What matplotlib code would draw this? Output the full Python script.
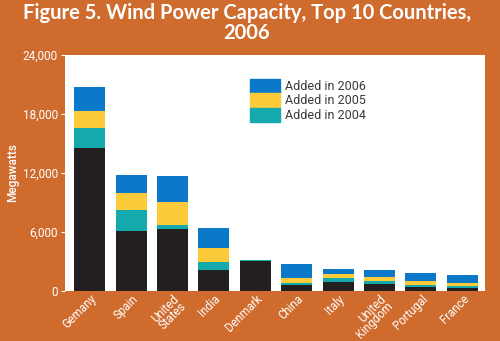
import matplotlib
matplotlib.use("Agg")
import matplotlib.pyplot as plt
import numpy as np
from matplotlib.patches import Patch

countries = ["Gemany", "Spain", "United\nStates", "India", "Denmark", "China",
             "Italy", "United\nKingdom", "Portugal", "France"]
base_2003 = [14500, 6150, 6340, 2120, 3100, 600, 960, 730, 400, 300]
added_2004 = [2050, 2130, 330, 880, 18, 200, 360, 250, 220, 170]
added_2005 = [1800, 1720, 2390, 1400, 4, 520, 450, 450, 440, 350]
added_2006 = [2350, 1780, 2600, 2020, 14, 1400, 480, 700, 820, 830]
yticks = [0, 6000, 12000, 18000, 24000]
ytick_labels = ["0", "6,000", "12,000", "18,000", "24,000"]

bg = "#D06B2E"
c_black = "#231F20"
c_teal = "#14A9AA"
c_yellow = "#FDCB3A"
c_blue = "#0B78C9"

narrow = ["Roboto", "DejaVu Sans"]

fig = plt.figure(figsize=(5.0, 3.41), dpi=100, facecolor=bg)
ax = fig.add_axes([0.13, 0.1466, 0.84, 0.692])
ax.set_facecolor("white")

x = np.arange(len(countries))
w = 0.75
b0 = np.array(base_2003, float)
b1 = b0 + np.array(added_2004)
b2 = b1 + np.array(added_2005)
ax.bar(x, base_2003, w, color=c_black, zorder=2)
ax.bar(x, added_2004, w, bottom=b0, color=c_teal, zorder=2)
ax.bar(x, added_2005, w, bottom=b1, color=c_yellow, zorder=2)
ax.bar(x, added_2006, w, bottom=b2, color=c_blue, zorder=2)

ax.set_xlim(-0.6, 9.55)
ax.set_ylim(0, 24000)
ax.set_yticks(yticks)
ax.set_yticklabels(ytick_labels, family=narrow, fontsize=8.5, color="white")
ax.tick_params(axis="y", colors="white", length=3, width=0.8, pad=2)
ax.set_xticks(x)
ax.set_xticklabels(countries, rotation=45, ha="right", rotation_mode="anchor",
                   family=narrow, fontsize=8.3, color="white", linespacing=0.72)
ax.tick_params(axis="x", length=0, pad=1)
for s in ax.spines.values():
    s.set_visible(False)

ax.set_ylabel("Megawatts", family=narrow, fontsize=8.5, color="white",
              fontweight="medium")
ax.yaxis.set_label_coords(-0.11, 0.5)

handles = [Patch(color=c_blue), Patch(color=c_yellow), Patch(color=c_teal)]
leg = ax.legend(handles, ["Added in 2006", "Added in 2005", "Added in 2004"],
                loc="upper left", bbox_to_anchor=(0.44, 0.9), frameon=False,
                prop={"family": narrow, "size": 9}, handlelength=2.4,
                handleheight=1.4, labelspacing=0.0, handletextpad=0.4,
                borderaxespad=0, borderpad=0)
for t in leg.get_texts():
    t.set_color("#3a3a3a")

fig.text(0.494, 0.99, "Figure 5. Wind Power Capacity, Top 10 Countries,\n2006",
         ha="center", va="top", color="white", fontsize=14.5, fontweight="bold",
         family=["Lato", "DejaVu Sans"], linespacing=0.98)

fig.savefig("out.png", dpi=100, facecolor=bg)
